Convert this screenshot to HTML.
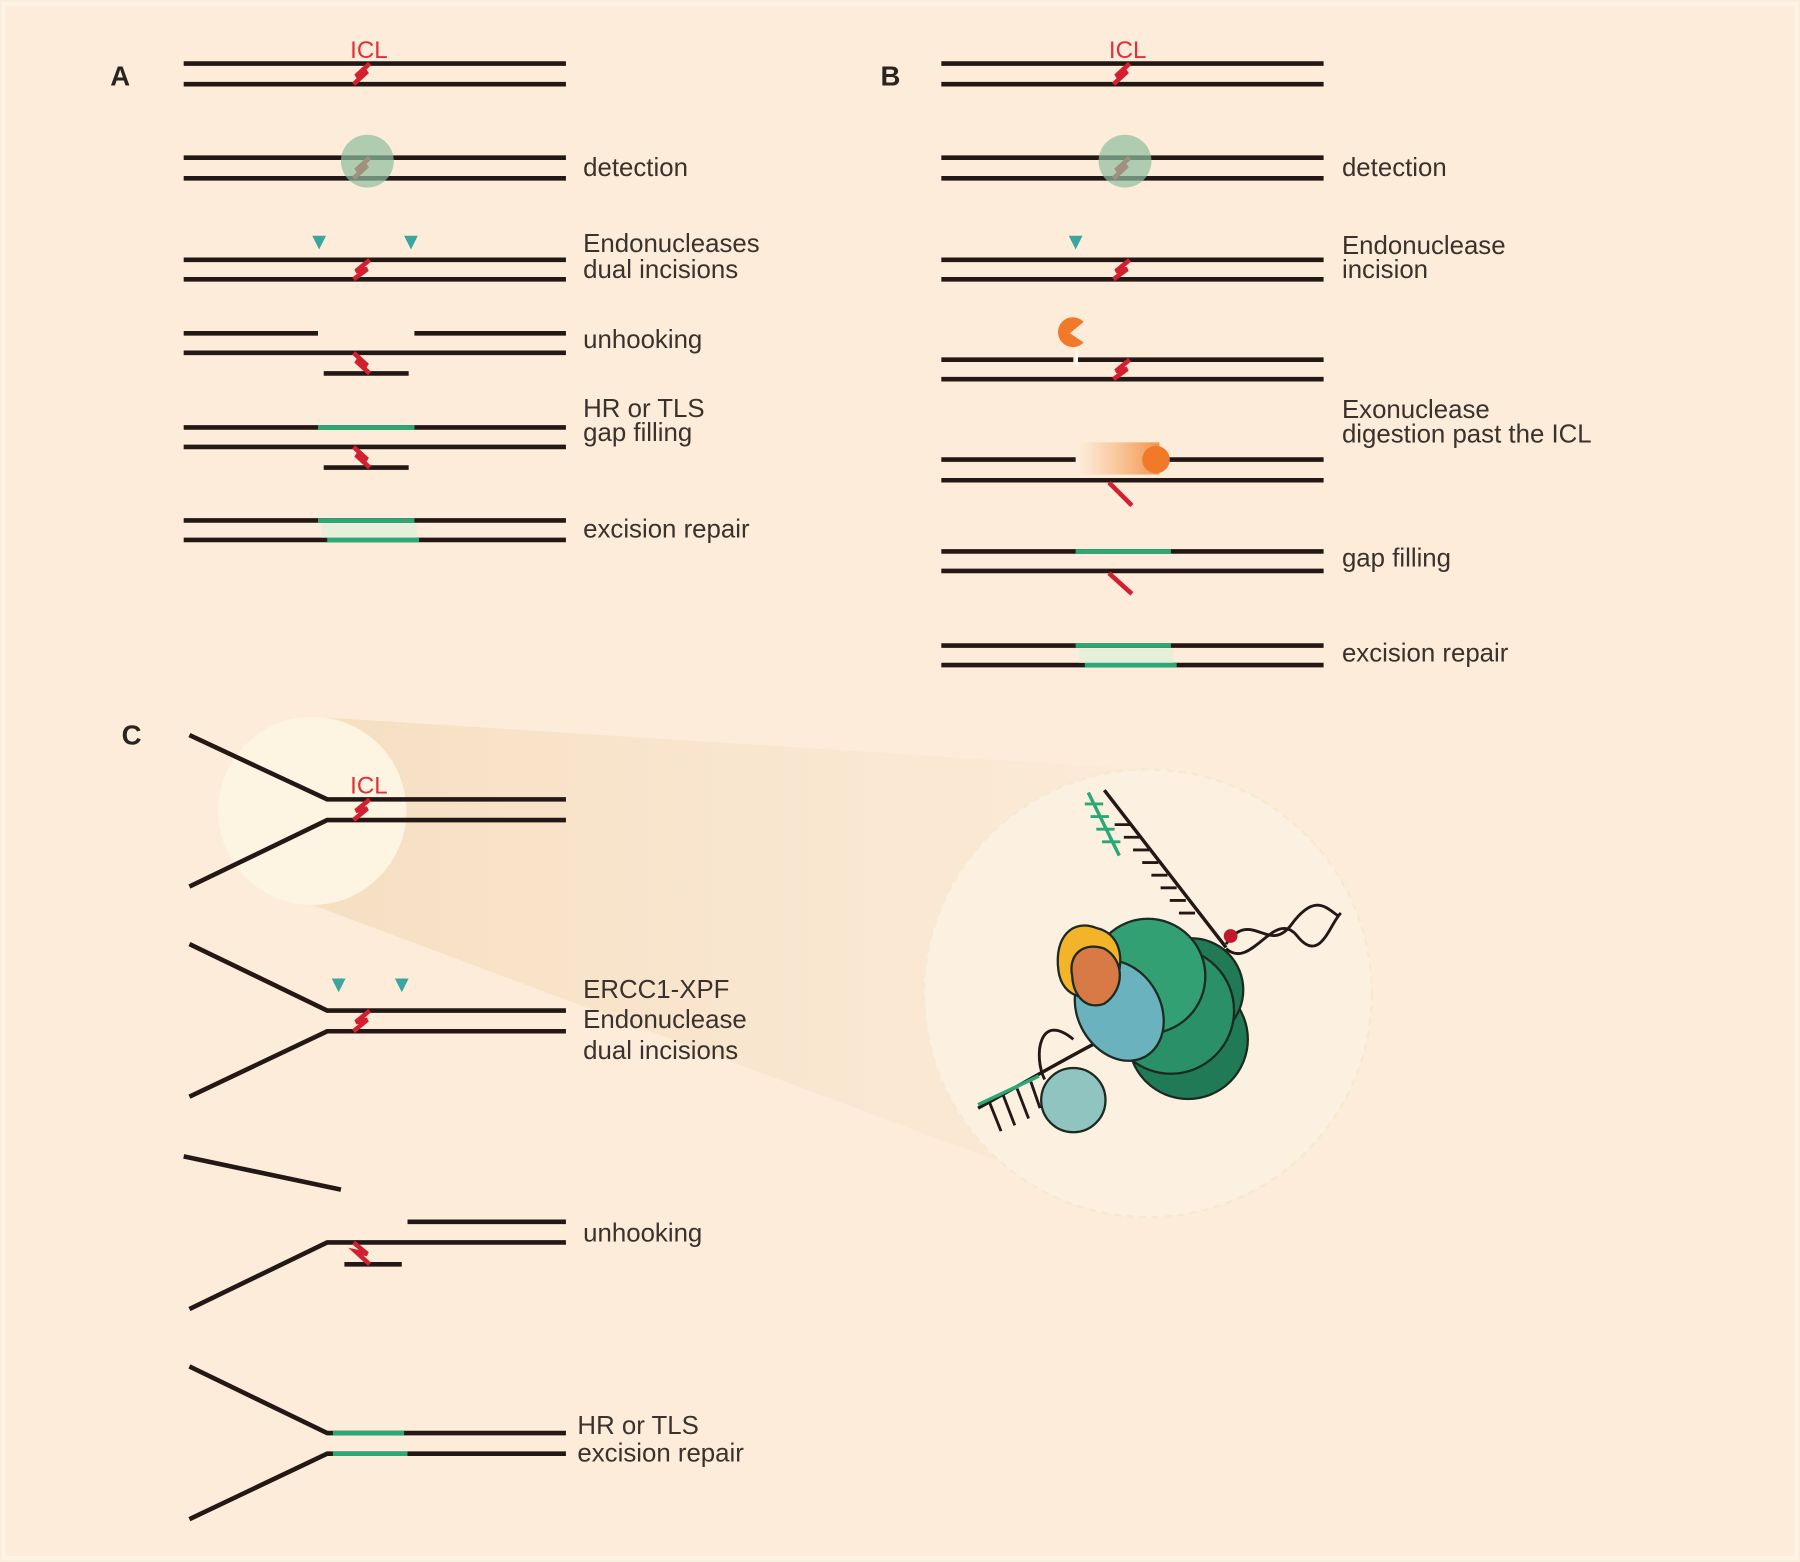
<!DOCTYPE html>
<html><head><meta charset="utf-8"><style>
html,body{margin:0;padding:0;background:#fcecd9;}
svg{display:block}
text{font-family:"Liberation Sans",sans-serif;fill:#3a322d;font-size:22.5px}
.r{fill:#e0303a;font-size:21px}
.b{font-weight:bold;font-size:24px;fill:#2a2420}
</style></head><body>
<svg width="1800" height="1562" viewBox="0 0 1568 1360" xmlns="http://www.w3.org/2000/svg">
<defs>
<linearGradient id="og" x1="0" x2="1"><stop offset="0" stop-color="#f7a05a" stop-opacity="0"/><stop offset="1" stop-color="#f08a3a" stop-opacity="0.9"/></linearGradient>
<linearGradient id="beam" x1="0" x2="1"><stop offset="0" stop-color="#f6dfc2"/><stop offset="1" stop-color="#fae8d3" stop-opacity="0.5"/></linearGradient>
</defs>
<rect width="1568" height="1360" fill="#fcecd9"/>
<rect x="3" y="3" width="1562" height="1354" fill="none" stroke="#fdf3e6" stroke-width="4"/>
<g stroke="#231815" stroke-width="4" fill="none">
<path d="M160 55H493M160 73H493"/>
<path d="M160 137H493M160 155H493"/>
<path d="M160 226H493M160 243H493"/>
<path d="M160 290H277M361 290H493M160 307H493M282 325H356"/>
<path d="M160 372H493M160 389H493M282 407H356"/>
<path d="M160 453H493M160 470H493"/>
<path d="M820 55H1153M820 73H1153"/>
<path d="M820 137H1153M820 155H1153"/>
<path d="M820 226H1153M820 243H1153"/>
<path d="M820 313H935M939 313H1153M820 330H1153"/>
<path d="M820 400H937M1015 400H1153M820 418H1153"/>
<path d="M820 480H1153M820 497H1153"/>
<path d="M820 562H1153M820 579H1153"/>
</g>
<polygon points="272,624 1000,670 1000,1060 272,788" fill="url(#beam)"/>
<circle cx="1000" cy="865" r="195" fill="#fcf0e0" stroke="#f4ead0" stroke-width="2" stroke-dasharray="6 5"/>
<circle cx="272" cy="706" r="82" fill="#fdf4e2"/>
<g stroke="#231815" stroke-width="4" fill="none">
<path d="M165 640L285 696H493M165 772L285 714H493"/>
<path d="M165 822L285 880H493M165 955L285 898H493"/>
<path d="M160 1007L297 1036M355 1064H493M165 1140L285 1082H493M300 1101H350"/>
<path d="M165 1190L285 1248H493M165 1323L285 1266H493"/>
</g>
<g stroke="#2aa876" stroke-width="4">
<path d="M277 372H361M277 453H361M285 470H365M937 480H1020M937 562H1020M945 579H1025M290 1248H352M290 1266H355"/>
</g>
<rect x="280" y="456" width="83" height="12" fill="#e6efd8"/>
<rect x="940" y="565" width="82" height="12" fill="#e6efd8"/>
<g stroke="#d32030" stroke-width="4" fill="none">
<path d="M308 73L320 62L310 66L322 55"/>
<path d="M308 155L320 144L310 148L322 137"/>
<path d="M308 243L320 234L310 236L322 226"/>
<path d="M308 307L320 318L310 314L322 325"/>
<path d="M308 389L320 400L310 396L322 407"/>
<path d="M970 73L982 62L972 66L984 55"/>
<path d="M970 155L982 144L972 148L984 137"/>
<path d="M970 243L982 234L972 236L984 226"/>
<path d="M970 330L982 321L972 323L984 313"/>
<path d="M966 420L986 440"/>
<path d="M966 499L986 517"/>
<path d="M308 714L320 704L310 706L322 696"/>
<path d="M308 898L320 888L310 890L322 880"/>
<path d="M308 1082L320 1092L310 1090L322 1101"/>
</g>
<circle cx="320" cy="140" r="23" fill="#8fbfa0" opacity="0.7"/>
<circle cx="980" cy="140" r="23" fill="#8fbfa0" opacity="0.7"/>
<g fill="#3aa6a0">
<path d="M272 205H284L278 217Z"/><path d="M352 205H364L358 217Z"/>
<path d="M931 205H943L937 217Z"/>
<path d="M289 852H301L295 864Z"/><path d="M344 852H356L350 864Z"/>
</g>
<path d="M932 290 L944 280 A13 13 0 1 0 944 298 Z" fill="#f07a2a"/>
<path d="M938 305V318" stroke="#fff" stroke-width="2"/>
<rect x="940" y="385" width="70" height="28" fill="url(#og)"/>
<circle cx="1007" cy="400" r="12" fill="#f07a2a"/>
<!-- protein illustration -->
<g stroke="#231815" stroke-width="2.5" fill="none">
<path d="M962 688L1068 825" stroke-width="3"/>
<path d="M985 718h-14M993 729h-14M1001 740h-14M1009 751h-14M1017 762h-14M1025 773h-14M1033 784h-14M1041 795h-14"/>
<path d="M1068 822C1090 790 1105 832 1125 805S1155 790 1165 797M1068 826C1090 846 1110 790 1130 815S1158 805 1168 795"/>
<path d="M852 965C880 950 930 920 980 895" stroke-width="3"/>
<path d="M862 960L872 985M874 954L884 980M886 948L896 974M898 942L906 965"/>
<path d="M935 905C905 880 900 920 910 940"/>
</g>
<path d="M948 690L975 745" stroke="#2aa876" stroke-width="3"/>
<path d="M945 700h16M950 711h16M955 722h16M960 733h16" stroke="#2aa876" stroke-width="2.5"/>
<path d="M852 962L905 937" stroke="#2aa876" stroke-width="3"/>
<g stroke="#1c2a22" stroke-width="2">
<circle cx="1035" cy="905" r="52" fill="#1f7a55"/>
<circle cx="1038" cy="862" r="45" fill="#1f7a55"/>
<circle cx="1020" cy="880" r="55" fill="#2a9068"/>
<circle cx="1000" cy="850" r="50" fill="#33a073"/>
<ellipse cx="975" cy="880" rx="36" ry="46" fill="#6ab2bd" transform="rotate(-30 975 880)"/>
<path d="M922 845C918 815 935 800 955 808C975 812 982 835 970 860C950 875 925 870 922 845Z" fill="#f4b42a"/>
<path d="M934 850C930 830 945 820 962 826C980 836 980 862 962 874C945 880 935 866 934 850Z" fill="#d77a45"/>
<circle cx="935" cy="958" r="28" fill="#8fc4c0"/>
</g>
<circle cx="1072" cy="815" r="6" fill="#c01a2a"/>
<text class="b" x="96" y="74">A</text>
<text class="b" x="767" y="74">B</text>
<text class="b" x="106" y="648">C</text>
<text class="r" x="305" y="50">ICL</text>
<text class="r" x="966" y="50">ICL</text>
<text class="r" x="305" y="691">ICL</text>
<text x="508" y="153">detection</text>
<text x="508" y="219">Endonucleases</text>
<text x="508" y="242">dual incisions</text>
<text x="508" y="303">unhooking</text>
<text x="508" y="363">HR or TLS</text>
<text x="508" y="384">gap filling</text>
<text x="508" y="468">excision repair</text>
<text x="1169" y="153">detection</text>
<text x="1169" y="221">Endonuclease</text>
<text x="1169" y="242">incision</text>
<text x="1169" y="364">Exonuclease</text>
<text x="1169" y="385">digestion past the ICL</text>
<text x="1169" y="493">gap filling</text>
<text x="1169" y="576">excision repair</text>
<text x="508" y="869">ERCC1-XPF</text>
<text x="508" y="895">Endonuclease</text>
<text x="508" y="922">dual incisions</text>
<text x="508" y="1081">unhooking</text>
<text x="503" y="1249">HR or TLS</text>
<text x="503" y="1273">excision repair</text>
</svg>
</body></html>
